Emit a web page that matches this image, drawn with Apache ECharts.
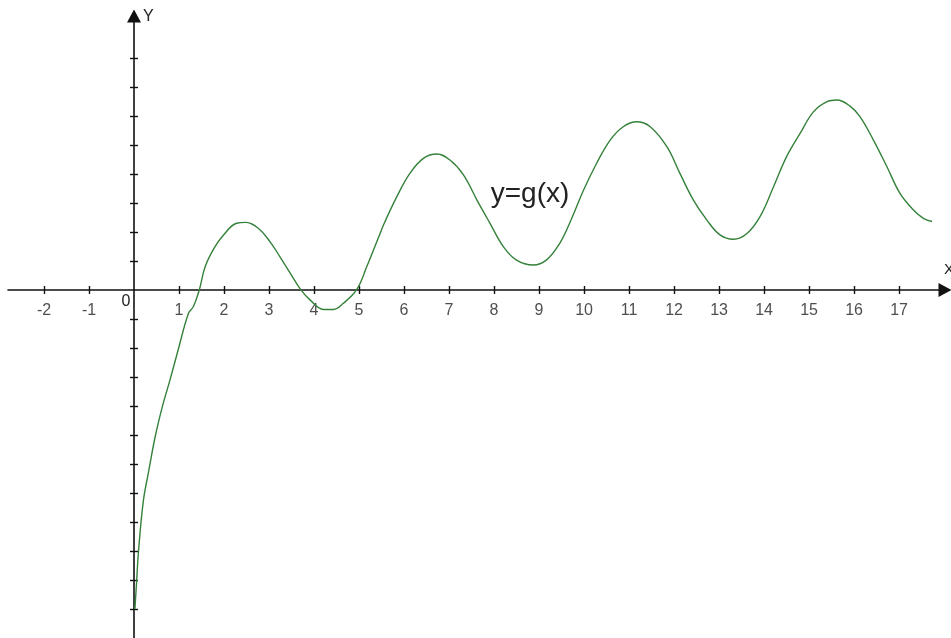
<!DOCTYPE html>
<html>
<head>
<meta charset="utf-8">
<title></title>
<script src="https://cdn.jsdelivr.net/npm/echarts@6/dist/echarts.min.js"></script>
<style>
* {
	padding:0;
	margin:0;
}
body { background:#ffffff; }
#chart {
	width:951px;
	height:638px;
}
</style>
</head>
<body>
<div id="chart"></div>
<script>
// curve
var xs = [0.02, 0.06, 0.10, 0.21, 0.32, 0.47, 0.63, 0.80, 0.98, 1.21, 1.32, 1.45, 1.58, 1.77, 1.98,
    2.28, 2.48, 2.76, 3.02, 3.24, 3.47, 3.70, 3.91, 4.21, 4.43, 4.65, 4.95, 5.17, 5.43, 5.56,
    5.84, 6.13, 6.43, 6.73, 7.02, 7.32, 7.62, 7.91, 8.21, 8.50, 8.87, 9.16, 9.46, 9.72, 9.99,
    10.28, 10.58, 10.87, 11.17, 11.47, 11.84, 12.13, 12.43, 12.73, 13.02, 13.32, 13.62, 13.91,
    14.21, 14.50, 14.80, 15.10, 15.39, 15.62, 15.91, 16.13, 16.43, 16.73, 17.02, 17.32, 17.54, 17.73];
var ys = [-11.0, -10.0, -9.0, -7.24, -6.3, -5.06, -4.02, -3.1, -2.07, -0.8, -0.57, 0.0, 0.8, 1.42, 1.88,
    2.3, 2.33, 2.13, 1.67, 1.15, 0.58, 0.02, -0.34, -0.67, -0.67, -0.46, 0.02, 0.8, 1.8, 2.3,
    3.22, 4.02, 4.54, 4.69, 4.48, 3.97, 3.1, 2.3, 1.49, 1.03, 0.86, 1.03, 1.61, 2.45, 3.45,
    4.37, 5.17, 5.63, 5.8, 5.63, 4.94, 4.02, 3.1, 2.41, 1.9, 1.75, 1.95, 2.53,
    3.56, 4.6, 5.4, 6.15, 6.49, 6.55, 6.34, 5.98, 5.17, 4.25, 3.33, 2.76, 2.47, 2.36];

var xTicks = [-2, -1, 1, 2, 3, 4, 5, 6, 7, 8, 9, 10, 11, 12, 13, 14, 15, 16, 17];
var yTicks = [-11, -10, -9, -8, -7, -6, -5, -4, -3, -2, -1, 1, 2, 3, 4, 5, 6, 7, 8];
var curveName = 'y=g(x)';
var originLabel = '0';

var pts = [];
for (var i = 0; i < xs.length; i++) {
    pts.push([xs[i], ys[i]]);
}
// tick labels sit on the x axis (y = 0)
var tickPts = [];
for (var j = 0; j < xTicks.length; j++) {
    tickPts.push([xTicks[j], 0]);
}

var font = 'Liberation Sans, Arial, sans-serif';
var axisColor = '#111111';

var chart = echarts.init(document.getElementById('chart'));
var option = {
    animation: false,
    grid: { left: 8, right: 6, top: 16, bottom: 0, containLabel: false, outerBoundsMode: 'none' },
    xAxis: [{
        type: 'value', min: -2.8, max: 18.02, position: 'bottom',
        name: 'X', nameLocation: 'end', nameGap: -1,
        nameTextStyle: { fontFamily: font, fontSize: 15, color: '#222', align: 'left', verticalAlign: 'bottom', padding: [0, 0, 13, 0] },
        axisLine: { show: true, onZero: true, onZeroAxisIndex: 0, symbol: ['none', 'triangle'], symbolSize: [14, 13],
            lineStyle: { color: axisColor, width: 1.6 } },
        axisTick: { show: true, length: 4, customValues: xTicks, lineStyle: { color: axisColor, width: 1.4 } },
        axisLabel: { show: false },
        splitLine: { show: false }
    }, {
        type: 'value', min: -2.8, max: 18.02, position: 'bottom',
        axisLine: { show: false, onZero: true, onZeroAxisIndex: 0 },
        axisTick: { show: true, inside: true, length: 4, customValues: xTicks, lineStyle: { color: axisColor, width: 1.4 } },
        axisLabel: { show: false },
        splitLine: { show: false }
    }],
    yAxis: [{
        type: 'value', min: -12, max: 9.448, position: 'left',
        name: 'Y', nameLocation: 'end', nameGap: -1,
        nameTextStyle: { fontFamily: font, fontSize: 16, color: '#222', align: 'left', verticalAlign: 'middle', padding: [0, 0, 0, 9] },
        axisLine: { show: true, onZero: true, onZeroAxisIndex: 0, symbol: ['none', 'triangle'], symbolSize: [14, 13],
            lineStyle: { color: axisColor, width: 1.6 } },
        axisTick: { show: true, length: 4, customValues: yTicks, lineStyle: { color: axisColor, width: 1.4 } },
        axisLabel: { show: false },
        splitLine: { show: false }
    }, {
        type: 'value', min: -12, max: 9.448, position: 'left',
        axisLine: { show: false, onZero: true, onZeroAxisIndex: 0 },
        axisTick: { show: true, inside: true, length: 4, customValues: yTicks, lineStyle: { color: axisColor, width: 1.4 } },
        axisLabel: { show: false },
        splitLine: { show: false }
    }],
    series: [{
        name: curveName,
        type: 'line',
        data: pts,
        smooth: 0.4,
        symbol: 'none',
        lineStyle: { color: '#34813a', width: 1.4 },
        markPoint: {
            symbol: 'circle', symbolSize: 1,
            itemStyle: { color: 'rgba(0,0,0,0)' },
            label: { show: true, position: 'inside', fontFamily: font, color: '#222' },
            data: [
                { coord: [8.8, 3.31], value: curveName, label: { formatter: curveName, fontSize: 28 } },
                { coord: [-0.18, -0.4], value: originLabel, label: { formatter: originLabel, fontSize: 16 } }
            ]
        }
    }, {
        name: 'ticks',
        type: 'scatter',
        data: tickPts,
        symbolSize: 0,
        silent: true,
        label: {
            show: true, position: 'bottom', distance: 13,
            fontFamily: font, fontSize: 16, color: '#222',
            formatter: function (p) { return String(p.value[0]); }
        }
    }]
};
chart.setOption(option);
</script>
</body>
</html>
